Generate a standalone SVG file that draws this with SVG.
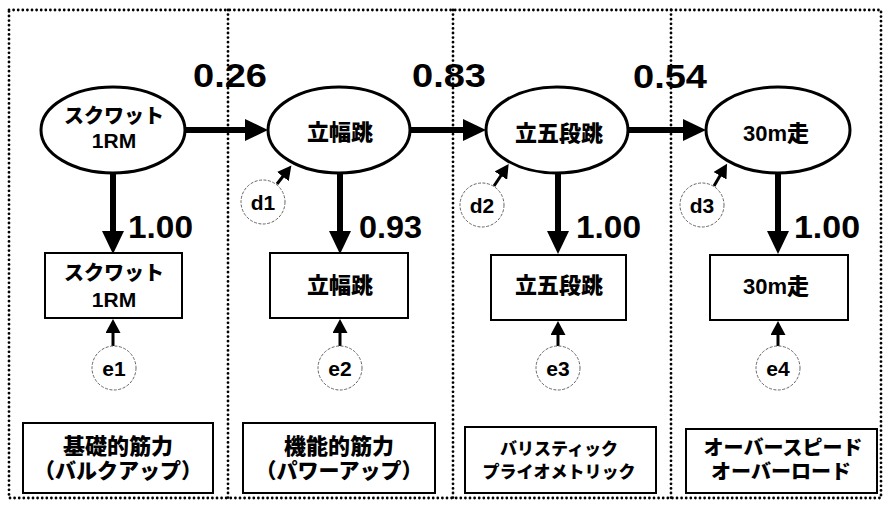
<svg xmlns="http://www.w3.org/2000/svg" width="883" height="508" viewBox="0 0 883 508">
<defs>
<style>
.dot{fill:none;stroke:#000;stroke-width:2.8;stroke-dasharray:0 4.6;stroke-linecap:round}
.ell{fill:#fff;stroke:#000;stroke-width:3}
.box{fill:#fff;stroke:#000;stroke-width:2}
.err{fill:#fff;stroke:#666;stroke-width:1;stroke-dasharray:3 1.5}
.big{stroke:#000;stroke-width:6;fill:none}
.sml{stroke:#000;stroke-width:3;fill:none}
text{font-family:"Liberation Sans","Noto Sans CJK JP",sans-serif;font-weight:900;fill:#000;text-anchor:middle;dominant-baseline:central}
.lab{font-size:34px;text-anchor:start;dominant-baseline:alphabetic}
.lab2{font-size:32px;text-anchor:start;dominant-baseline:alphabetic}
.v{font-size:22px}
.k{font-size:20px}
.ce{font-size:21px}
.g{font-size:21px}
.gs{font-size:17px}
</style>
<marker id="ab" markerUnits="userSpaceOnUse" markerWidth="24" markerHeight="22" refX="2" refY="11" orient="auto" viewBox="0 0 24 22">
<path d="M0,0 L23,11 L0,22 Z" fill="#000"/>
</marker>
<marker id="as" markerUnits="userSpaceOnUse" markerWidth="15" markerHeight="15" refX="2" refY="7.5" orient="auto" viewBox="0 0 15 15">
<path d="M0,0 L14,7.5 L0,15 Z" fill="#000"/>
</marker>
</defs>
<rect width="883" height="508" fill="#fff"/>
<g id="frames">
<path class="dot" d="M9,10 H881 V498 H9 Z"/>
<path class="dot" d="M228,10 V498"/>
<path class="dot" d="M453,10 V498"/>
<path class="dot" d="M671,10 V498"/>
</g>
<g id="connectors">
<line class="big" x1="185" y1="130" x2="247" y2="130" marker-end="url(#ab)"/>
<line class="big" x1="410" y1="130" x2="465" y2="130" marker-end="url(#ab)"/>
<line class="big" x1="628" y1="130" x2="685" y2="130" marker-end="url(#ab)"/>
<line class="big" x1="113" y1="173" x2="113" y2="233" marker-end="url(#ab)"/>
<line class="big" x1="340" y1="173" x2="340" y2="233" marker-end="url(#ab)"/>
<line class="big" x1="558" y1="173" x2="558" y2="233" marker-end="url(#ab)"/>
<line class="big" x1="778" y1="173" x2="778" y2="233" marker-end="url(#ab)"/>
<line class="sml" x1="113" y1="346" x2="113" y2="331" marker-end="url(#as)"/>
<line class="sml" x1="340" y1="346" x2="340" y2="331" marker-end="url(#as)"/>
<line class="sml" x1="558" y1="346" x2="558" y2="333" marker-end="url(#as)"/>
<line class="sml" x1="778" y1="346" x2="778" y2="333" marker-end="url(#as)"/>
<line class="sml" x1="277" y1="184" x2="284" y2="175" marker-end="url(#as)"/>
<line class="sml" x1="494" y1="186" x2="502" y2="174" marker-end="url(#as)"/>
<line class="sml" x1="714" y1="186" x2="721" y2="174" marker-end="url(#as)"/>
<text class="lab" x="193" y="87" textLength="74" lengthAdjust="spacingAndGlyphs">0.26</text>
<text class="lab" x="412" y="87" textLength="74" lengthAdjust="spacingAndGlyphs">0.83</text>
<text class="lab" x="633" y="88" textLength="74" lengthAdjust="spacingAndGlyphs">0.54</text>
<text class="lab2" x="128" y="238" textLength="65" lengthAdjust="spacingAndGlyphs">1.00</text>
<text class="lab2" x="359" y="238" textLength="63" lengthAdjust="spacingAndGlyphs">0.93</text>
<text class="lab2" x="576" y="238" textLength="65" lengthAdjust="spacingAndGlyphs">1.00</text>
<text class="lab2" x="794" y="238" textLength="66" lengthAdjust="spacingAndGlyphs">1.00</text>
</g>
<g id="lv1">
<ellipse class="ell" cx="113" cy="130" rx="72" ry="43"/>
<text class="k" x="114" y="116">スクワット</text>
<text class="g" x="114" y="140">1RM</text>
</g>
<g id="lv2">
<ellipse class="ell" cx="339" cy="130" rx="71" ry="43"/>
<text class="v" x="340" y="132">立幅跳</text>
</g>
<g id="lv3">
<ellipse class="ell" cx="557" cy="130" rx="71" ry="43"/>
<text class="v" x="559" y="133">立五段跳</text>
</g>
<g id="lv4">
<ellipse class="ell" cx="778" cy="130" rx="72" ry="43"/>
<text class="v" x="776" y="133">30m走</text>
</g>
<g id="ov1">
<rect class="box" x="45" y="253" width="137" height="65"/>
<text class="k" x="114" y="273">スクワット</text>
<text class="g" x="114" y="299">1RM</text>
</g>
<g id="ov2">
<rect class="box" x="270" y="253" width="138" height="65"/>
<text class="v" x="340" y="285">立幅跳</text>
</g>
<g id="ov3">
<rect class="box" x="491" y="255" width="135" height="65"/>
<text class="v" x="559" y="285">立五段跳</text>
</g>
<g id="ov4">
<rect class="box" x="710" y="255" width="138" height="65"/>
<text class="v" x="776" y="286">30m走</text>
</g>
<g id="e1"><circle class="err" cx="114" cy="368" r="22"/><text class="ce" x="114" y="368">e1</text></g>
<g id="e2"><circle class="err" cx="340" cy="368" r="22"/><text class="ce" x="340" y="368">e2</text></g>
<g id="e3"><circle class="err" cx="558" cy="368" r="22"/><text class="ce" x="558" y="368">e3</text></g>
<g id="e4"><circle class="err" cx="778" cy="368" r="22"/><text class="ce" x="778" y="368">e4</text></g>
<g id="d1"><circle class="err" cx="263" cy="202" r="22"/><text class="ce" x="263" y="202">d1</text></g>
<g id="d2"><circle class="err" cx="482" cy="205" r="22"/><text class="ce" x="482" y="205">d2</text></g>
<g id="d3"><circle class="err" cx="702" cy="205" r="22"/><text class="ce" x="702" y="205">d3</text></g>
<g id="cat1">
<rect class="box" x="23" y="423" width="190" height="70"/>
<text class="v" x="118" y="446">基礎的筋力</text>
<text class="g" x="118" y="470">（バルクアップ）</text>
</g>
<g id="cat2">
<rect class="box" x="243" y="423" width="192" height="70"/>
<text class="v" x="339" y="446">機能的筋力</text>
<text class="g" x="339" y="470">（パワーアップ）</text>
</g>
<g id="cat3">
<rect class="box" x="465" y="427" width="191" height="66"/>
<text class="gs" x="559" y="449">バリスティック</text>
<text class="gs" x="559" y="472">プライオメトリック</text>
</g>
<g id="cat4">
<rect class="box" x="686" y="429" width="191" height="64"/>
<text class="k" x="783" y="448">オーバースピード</text>
<text class="k" x="781" y="472">オーバーロード</text>
</g>
</svg>
